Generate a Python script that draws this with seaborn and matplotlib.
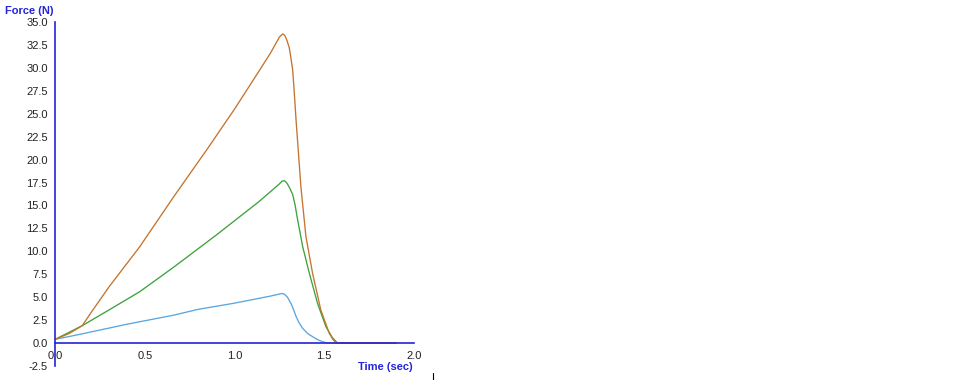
import pandas as pd
import numpy as np
import matplotlib
matplotlib.use("Agg")
import matplotlib.pyplot as plt
import seaborn as sns
from matplotlib.lines import Line2D

# --- data ---
blue_t = [0, 0.15, 0.4, 0.663, 0.796, 1.0, 1.135, 1.2, 1.24, 1.255, 1.268, 1.28,
          1.295, 1.315, 1.33, 1.343, 1.36, 1.38, 1.41, 1.435, 1.465, 1.49, 1.52, 1.9]
blue_f = [0.4, 1.0, 2.05, 3.05, 3.67, 4.35, 4.87, 5.12, 5.3, 5.38, 5.4, 5.3,
          5.0, 4.3, 3.6, 2.9, 2.2, 1.6, 1.0, 0.7, 0.35, 0.15, 0.0, 0.0]

green_t = [0, 0.152, 0.3, 0.472, 0.663, 0.9, 1.135, 1.2, 1.25, 1.265, 1.278, 1.29,
           1.305, 1.324, 1.338, 1.352, 1.38, 1.417, 1.463, 1.509, 1.545, 1.574, 1.9]
green_f = [0.4, 1.9, 3.6, 5.6, 8.3, 11.8, 15.4, 16.5, 17.35, 17.65, 17.7, 17.5,
           17.0, 16.2, 15.0, 13.4, 10.5, 7.6, 4.3, 1.8, 0.6, 0.0, 0.0]

brown_t = [0, 0.08, 0.152, 0.2, 0.3, 0.472, 0.663, 0.85, 1.0, 1.135, 1.2, 1.22,
           1.25, 1.268, 1.28, 1.292, 1.305, 1.315, 1.324, 1.333, 1.343, 1.37,
           1.398, 1.435, 1.481, 1.528, 1.55, 1.568, 1.9]
brown_f = [0.4, 1.05, 1.9, 3.3, 6.1, 10.5, 16.0, 21.2, 25.5, 29.6, 31.6, 32.3,
           33.35, 33.7, 33.55, 33.0, 32.2, 31.0, 29.8, 27.3, 24.3, 17.0,
           11.6, 7.6, 3.6, 1.06, 0.35, 0.0, 0.0]

y_ticks = np.arange(-2.5, 35.01, 2.5)
x_ticks = [0.0, 0.5, 1.0, 1.5, 2.0]

df = pd.concat([
    pd.DataFrame({"t": blue_t, "force": blue_f, "series": "blue"}),
    pd.DataFrame({"t": green_t, "force": green_f, "series": "green"}),
    pd.DataFrame({"t": brown_t, "force": brown_f, "series": "brown"}),
])

sns.set_style("white")
plt.rcParams['font.family'] = ['Liberation Sans', 'DejaVu Sans']

axis_blue = "#2424d8"
fig = plt.figure(figsize=(9.6, 3.8), dpi=100)
ax = fig.add_axes([55 / 960, 1 - 366 / 380, 359 / 960, 344 / 380])

sns.lineplot(data=df, x="t", y="force", hue="series", estimator=None, sort=False,
             palette={"blue": "#5aa6e0", "green": "#3ca23c", "brown": "#c4742c"},
             linewidth=0.95, legend=False, ax=ax)

ax.set_xlim(0, 2)
ax.set_ylim(-2.5, 35)
ax.set_xticks(x_ticks)
ax.set_yticks(y_ticks)
ax.set_xticklabels([f"{v:.1f}" for v in x_ticks])
ax.set_yticklabels([f"{v:.1f}" for v in y_ticks])
ax.set_xlabel("")
ax.set_ylabel("")

for s in ["top", "right"]:
    ax.spines[s].set_visible(False)
ax.spines["bottom"].set_position(("data", 0))
for s in ["left", "bottom"]:
    ax.spines[s].set_color(axis_blue)
    ax.spines[s].set_linewidth(1.2)

ax.tick_params(axis="both", direction="out", length=4, width=1.2, color=axis_blue,
               labelsize=8, labelcolor="#222222")
ax.tick_params(axis="y", pad=1)
ax.tick_params(axis="x", pad=2)

fig.text(5 / 960, 1 - 11 / 380, "Force (N)", color=axis_blue, fontsize=8,
         fontweight="bold", va="center", ha="left")
fig.text(413 / 960, 1 - 367 / 380, "Time (sec)", color=axis_blue, fontsize=8,
         fontweight="bold", va="center", ha="right")

fig.add_artist(Line2D([433 / 960, 433 / 960], [0, 7 / 380], color="black", lw=0.8))

plt.savefig("out.png", dpi=100)
